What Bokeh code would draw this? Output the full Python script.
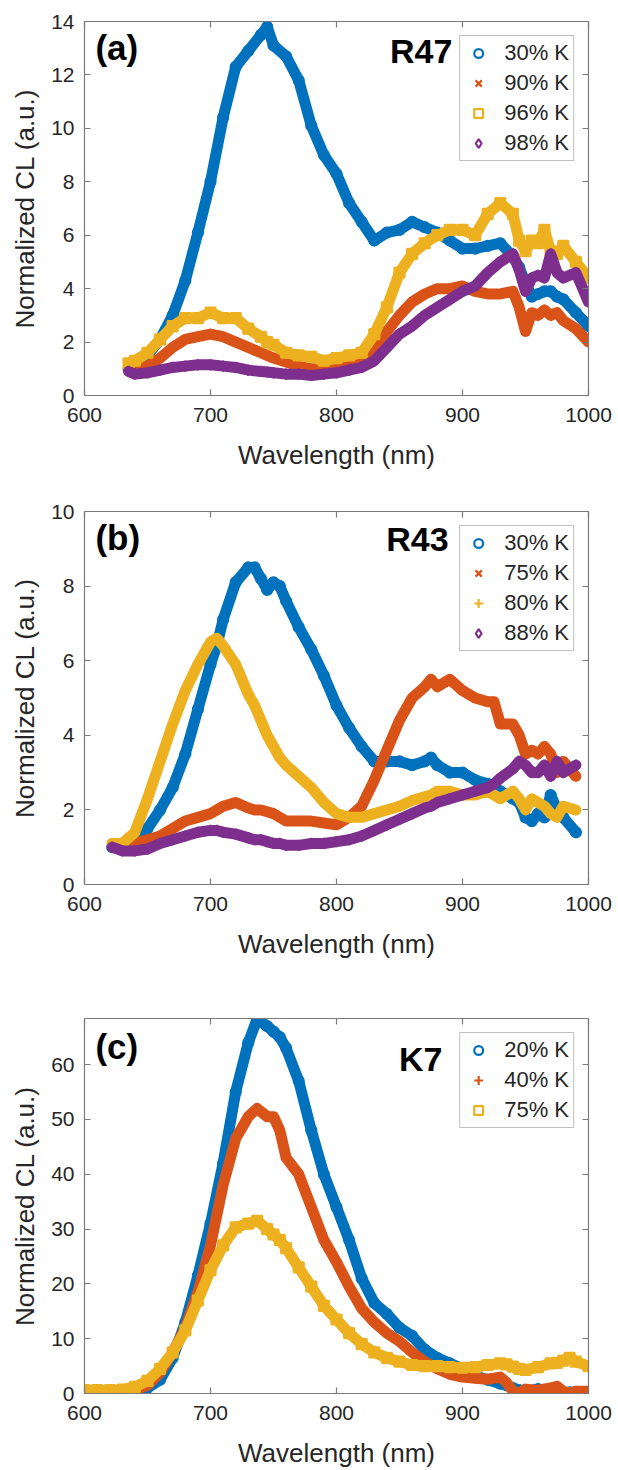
from bokeh.plotting import figure
from bokeh.layouts import column
from bokeh.models import Range1d, LinearAxis, SingleIntervalTicker, Legend, LegendItem, Label
from bokeh.embed import file_html
from bokeh.resources import INLINE

BLUE = "#0072BD"; ORANGE = "#D95319"; YELLOW = "#EDB120"; PURPLE = "#7E2F8E"
FONT = "Liberation Sans"
TXT = "#262626"
FRAME = "#7a7a7a"

# ---------------- Panel (a) R47 ----------------
a_x = [635, 640, 650, 660, 670, 680, 690, 700, 710, 720, 730, 740, 745, 750, 760, 770, 780, 790, 800,
       810, 820, 830, 840, 850, 860, 870, 880, 890, 900, 910, 920, 930, 940, 945, 950, 955, 960, 965,
       970, 975, 980, 990, 1000]
a_30 = [1.0, 1.1, 1.5, 2.1, 3.0, 4.3, 6.1, 8.0, 10.4, 12.3, 12.9, 13.5, 13.8, 13.1, 12.7, 11.8, 10.1, 9.0, 8.3,
        7.2, 6.5, 5.8, 6.1, 6.2, 6.5, 6.3, 6.1, 5.8, 5.5, 5.5, 5.6, 5.7, 5.2, 4.8, 4.2, 3.7, 3.8, 3.9,
        3.9, 3.7, 3.6, 3.1, 2.6]
a_90 = [1.0, 1.0, 1.1, 1.4, 1.8, 2.1, 2.2, 2.3, 2.2, 2.0, 1.8, 1.6, 1.5, 1.4, 1.25, 1.1, 1.0, 1.0, 1.0,
        1.1, 1.2, 1.6, 2.4, 3.0, 3.5, 3.8, 4.0, 4.0, 4.1, 3.9, 3.8, 3.8, 3.9, 3.3, 2.4, 3.1, 3.0, 3.2,
        3.0, 3.1, 2.8, 2.5, 2.0]
a_96 = [1.2, 1.3, 1.6, 2.1, 2.6, 2.9, 2.9, 3.1, 2.9, 2.9, 2.5, 2.2, 2.0, 1.9, 1.6, 1.5, 1.45, 1.3, 1.4,
        1.5, 1.6, 2.3, 3.3, 4.6, 5.3, 5.7, 6.0, 6.2, 6.2, 6.0, 6.8, 7.2, 6.8, 5.8, 5.4, 5.8, 5.7, 6.2,
        5.4, 5.3, 5.6, 5.0, 4.4]
a_98 = [0.9, 0.8, 0.85, 0.95, 1.05, 1.1, 1.15, 1.15, 1.1, 1.05, 0.95, 0.9, 0.88, 0.85, 0.8, 0.8, 0.75, 0.8, 0.85,
        0.95, 1.05, 1.3, 1.8, 2.3, 2.6, 3.0, 3.3, 3.6, 3.9, 4.1, 4.6, 5.0, 5.3, 4.7, 3.9, 4.4, 4.5, 4.4,
        5.3, 4.6, 4.4, 4.6, 3.5]
a_labels = ["30% K", "90% K", "96% K", "98% K"]

# ---------------- Panel (b) R43 ----------------
b_x = [622, 630, 640, 650, 660, 670, 680, 690, 700, 705, 710, 720, 730, 735, 740, 745, 750, 755, 760, 770,
       780, 790, 800, 810, 820, 830, 840, 850, 860, 870, 875, 880, 890, 900, 910, 920, 925, 930, 940, 945,
       950, 955, 960, 965, 970, 975, 980, 990]
b_30 = [1.0, 1.0, 1.1, 1.5, 2.0, 2.6, 3.5, 4.7, 5.9, 6.4, 7.1, 8.1, 8.5, 8.5, 8.2, 7.9, 8.1, 8.0, 7.6, 6.9,
        6.3, 5.6, 4.8, 4.2, 3.7, 3.3, 3.3, 3.3, 3.2, 3.3, 3.4, 3.2, 3.0, 3.0, 2.8, 2.7, 2.6, 2.5, 2.3, 2.2,
        1.8, 1.7, 1.9, 1.8, 2.4, 2.0, 1.8, 1.4]
b_75 = [1.1, 1.1, 1.1, 1.2, 1.3, 1.5, 1.7, 1.8, 1.9, 2.0, 2.1, 2.2, 2.05, 2.0, 2.0, 1.95, 1.9, 1.8, 1.7, 1.7,
        1.7, 1.65, 1.6, 1.8, 2.1, 2.8, 3.6, 4.4, 5.0, 5.3, 5.5, 5.3, 5.5, 5.2, 5.0, 4.9, 4.9, 4.3, 4.3, 4.0,
        3.5, 3.6, 3.5, 3.7, 3.5, 3.0, 3.3, 2.9]
b_80 = [1.1, 1.1, 1.4, 2.3, 3.3, 4.3, 5.2, 5.9, 6.5, 6.6, 6.4, 5.9, 5.1, 4.8, 4.4, 4.0, 3.7, 3.4, 3.2, 2.9,
        2.6, 2.2, 1.9, 1.8, 1.8, 1.9, 2.0, 2.1, 2.25, 2.35, 2.4, 2.5, 2.5, 2.4, 2.4, 2.5, 2.4, 2.3, 2.5, 2.3,
        2.0, 2.3, 2.2, 2.1, 1.9, 1.8, 2.1, 2.0]
b_88 = [1.0, 0.9, 0.9, 0.95, 1.1, 1.2, 1.3, 1.4, 1.45, 1.45, 1.4, 1.35, 1.25, 1.2, 1.2, 1.15, 1.1, 1.1, 1.05, 1.05,
        1.1, 1.1, 1.15, 1.2, 1.3, 1.45, 1.6, 1.75, 1.9, 2.05, 2.1, 2.2, 2.3, 2.4, 2.5, 2.6, 2.7, 2.85, 3.1, 3.3,
        3.2, 3.0, 3.0, 3.2, 2.9, 3.3, 3.0, 3.2]
b_labels = ["30% K", "75% K", "80% K", "88% K"]

# ---------------- Panel (c) K7 ----------------
c_x = [600, 610, 620, 630, 640, 650, 660, 670, 680, 690, 700, 710, 720, 730, 737, 745, 750, 755, 760, 770,
       780, 790, 800, 810, 820, 830, 840, 850, 860, 870, 880, 890, 900, 910, 920, 930, 935, 940, 945, 950,
       960, 970, 975, 980, 985, 990, 1000]
c_20 = [0.5, 0.5, 0.5, 0.4, 0.5, 1.0, 2.5, 6.5, 13, 21.5, 31, 42, 55, 64, 68.3, 67, 66, 65, 63, 57,
        48, 40, 34, 28, 21, 16.5, 14.5, 12, 10.5, 8, 6.5, 5.5, 4.5, 3.2, 2.5, 1.8, 1.5, 1.0, 0.6, 0.4,
        0.8, 0.3, 0.2, 0.0, 0.2, 0.3, 0.3]
c_40 = [0.5, 0.5, 0.5, 0.5, 0.7, 1.5, 3.8, 7.5, 12, 18.5, 27, 38, 46.5, 50.5, 52, 50.5, 50.5, 48, 43, 40,
        34, 28, 24, 19.5, 15.5, 13, 11, 9.5, 7.5, 5.8, 4.5, 3.5, 3.0, 2.8, 2.6, 3.0, 2.0, 0.5, 0.0, 0.8,
        0.6, 1.0, 1.3, 0.4, 0.1, 0.4, 0.4]
c_75 = [0.6, 0.6, 0.6, 0.7, 1.2, 2.3, 4.5, 7.5, 11.5, 17, 22.5, 27, 30.3, 31, 31.5, 30, 29, 28, 26.5, 23,
        19.5, 16, 13.5, 11, 9, 7.5, 6.5, 5.8, 5.2, 5.0, 5.0, 4.8, 4.7, 4.8, 5.2, 5.5, 5.3, 4.9, 4.5, 4.3,
        4.8, 5.5, 5.6, 6.0, 6.5, 5.8, 5.0]
c_labels = ["20% K", "40% K", "75% K"]

x_ticks_interval = 100


def style_axis(ax, labels=True):
    ax.axis_line_color = FRAME
    ax.axis_line_width = 1.2
    ax.major_tick_line_color = FRAME
    ax.major_tick_line_width = 1.2
    ax.major_tick_in = 6
    ax.major_tick_out = 0
    ax.minor_tick_line_color = None
    ax.major_label_text_font = FONT
    if labels:
        ax.major_label_text_font_size = "21px"
        ax.major_label_text_color = TXT
    else:
        ax.major_label_text_font_size = "1px"
        ax.major_label_text_color = None
        ax.major_label_standoff = 0


def make_panel(xs, series, colors, markers, labels, ymax, yint, tag, name,
               top, bottom, tag_pos, name_pos):
    p = figure(width=618, height=490, output_backend="svg", toolbar_location=None,
               x_range=Range1d(600, 1000), y_range=Range1d(0, ymax),
               min_border_left=84, min_border_right=30, min_border_top=top, min_border_bottom=bottom,
               x_axis_location=None, y_axis_location=None)
    p.outline_line_color = None
    p.xgrid.visible = False
    p.ygrid.visible = False
    p.background_fill_color = "white"

    xt = SingleIntervalTicker(interval=x_ticks_interval, num_minor_ticks=0)
    yt = SingleIntervalTicker(interval=yint, num_minor_ticks=0)
    xb = LinearAxis(ticker=xt, axis_label="Wavelength (nm)")
    yl = LinearAxis(ticker=yt, axis_label="Normalized CL (a.u.)")
    xa = LinearAxis(ticker=xt)
    yr = LinearAxis(ticker=yt)
    for ax in (xb, yl):
        style_axis(ax, True)
        ax.axis_label_text_font = FONT
        ax.axis_label_text_font_size = "26px"
        ax.axis_label_text_font_style = "normal"
        ax.axis_label_text_color = TXT
    xb.major_label_standoff = 12
    yl.major_label_standoff = 10
    xb.axis_label_standoff = 15
    yl.axis_label_standoff = 8
    style_axis(xa, False)
    style_axis(yr, False)
    p.add_layout(xb, "below")
    p.add_layout(yl, "left")
    p.add_layout(xa, "above")
    p.add_layout(yr, "right")

    items = []
    for ys, c, m, lab in zip(series, colors, markers, labels):
        p.line(xs, ys, line_color=c, line_width=11, line_join="round", line_cap="round")
        s = p.scatter(xs, ys, marker=m, size=10, fill_color=None, line_color=c, line_width=2.2)
        items.append(LegendItem(label=lab, renderers=[s]))

    leg = Legend(items=items, location="top_right")
    leg.margin = 14
    leg.padding = 4
    leg.spacing = 4
    leg.glyph_width = 28
    leg.glyph_height = 22
    leg.label_standoff = 12
    leg.label_text_font = FONT
    leg.label_text_font_size = "22px"
    leg.label_text_color = TXT
    leg.border_line_color = "#808080"
    leg.border_line_width = 1
    leg.background_fill_color = "white"
    leg.background_fill_alpha = 1
    p.add_layout(leg)

    p.add_layout(Label(x=tag_pos[0], y=tag_pos[1], text=tag, text_font=FONT, text_font_size="35px",
                       text_font_style="bold", text_color="black", text_align="left",
                       text_baseline="alphabetic"))
    p.add_layout(Label(x=name_pos[0], y=name_pos[1], text=name, text_font=FONT, text_font_size="34px",
                       text_font_style="bold", text_color="black", text_align="right",
                       text_baseline="alphabetic"))
    return p


pa = make_panel(a_x, [a_30, a_90, a_96, a_98], [BLUE, ORANGE, YELLOW, PURPLE],
                ["circle", "x", "square", "diamond"], a_labels, 14, 2, "(a)", "R47",
                21, 95, (608.7, 13.04), (892, 12.91))
pb = make_panel(b_x, [b_30, b_75, b_80, b_88], [BLUE, ORANGE, YELLOW, PURPLE],
                ["circle", "x", "cross", "diamond"], b_labels, 10, 2, "(b)", "R43",
                21, 96, (608.7, 9.3), (889, 9.27))
pc = make_panel(c_x, [c_20, c_40, c_75], [BLUE, ORANGE, YELLOW],
                ["circle", "cross", "square"], c_labels, 68.4, 10, "(c)", "K7",
                38, 76, (608.7, 63.3), (884, 60.95))

layout = column(pa, pb, pc, spacing=0)
open("out.html", "w").write(file_html(layout, INLINE))
